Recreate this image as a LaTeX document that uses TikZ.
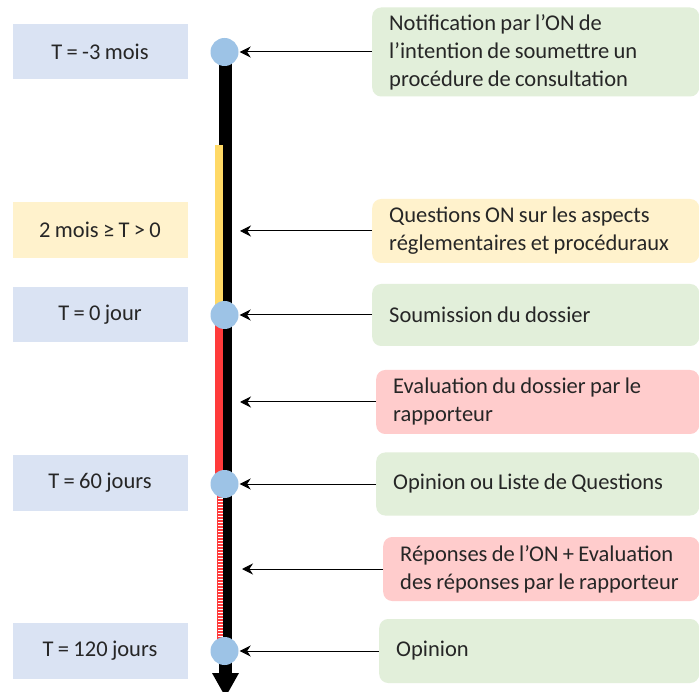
\documentclass[tikz,border=0pt]{standalone}
\usepackage{fontspec}
\setmainfont[WordSpace=0.85]{Carlito}
\usetikzlibrary{arrows.meta}
\definecolor{dateblue}{HTML}{DAE3F3}
\definecolor{dotblue}{HTML}{9DC3E6}
\definecolor{paleorange}{HTML}{FFF2CC}
\definecolor{barorange}{HTML}{FFD966}
\definecolor{palegreen}{HTML}{E2EFDA}
\definecolor{palered}{HTML}{FFCCCC}
\definecolor{barred}{HTML}{FF3B3B}
\definecolor{inktext}{HTML}{262626}
\tikzset{
  datebox/.style={fill=dateblue, minimum width=175, minimum height=55,
    inner sep=0, text=inktext, font=\fontsize{22.5}{28}\selectfont},
  stepbox/.style={rounded corners=9, anchor=west, align=flush left, inner xsep=17,
    inner ysep=0, text=inktext, font=\fontsize{22.5}{28}\selectfont},
  dot/.style={circle, fill=dotblue, minimum size=28, inner sep=0},
  pointer/.style={-{Stealth[length=11,width=11]}, line width=1, shorten >=1}
}
\begin{document}
\begin{tikzpicture}[x=1pt, y=-1pt]
  \clip (0,0) rectangle (699,692);
  \fill[white] (0,0) rectangle (699,692);
  % timeline
  \fill[black] (219,52) rectangle (232,674);
  \fill[black] (212,673) -- (239,673) -- (225.5,697) -- cycle;
  \fill[barorange] (215,145) rectangle (223,315);
  \fill[barred] (215,315) rectangle (223,484);
  \fill[white] (217,484) rectangle (223,651);
  \foreach \y in {485,488,...,650}
    \draw[barred, line width=1.5] (217,\y) -- (223,\y);
  \draw[barred, line width=1] (217.5,484) -- (217.5,651);
  % points on the line
  \node (c1) [dot] at (224.5,52) {};
  \node (c2) [dot] at (224.5,315) {};
  \node (c3) [dot] at (224.5,484) {};
  \node (c4) [dot] at (224.5,651) {};
  \coordinate (q) at (239,231);
  \coordinate (e) at (239,402);
  \coordinate (r) at (241,569);
  % dates
  \node (d1) [datebox] at (100,51.5) {T = -3 mois};
  \node (d2) [datebox, fill=paleorange, minimum height=56] at (100,230) {2 mois ≥ T > 0};
  \node (d3) [datebox] at (100,314.5) {T = 0 jour};
  \node (d4) [datebox, minimum height=56] at (100,483) {T = 60 jours};
  \node (d5) [datebox, minimum height=56] at (100,650.5) {T = 120 jours};
  % steps
  \node (s1) [stepbox, fill=palegreen, minimum height=89, text width=293] at (372,52)
    {Notification par l’ON de\\l’intention de soumettre un\\procédure de consultation};
  \node (s2) [stepbox, fill=paleorange, minimum height=64, text width=293] at (372,231)
    {Questions ON sur les aspects\\réglementaires et procéduraux};
  \node (s3) [stepbox, fill=palegreen, minimum height=62, text width=293] at (372,315)
    {Soumission du dossier};
  \node (s4) [stepbox, fill=palered, minimum height=64, text width=289] at (376,402)
    {Evaluation du dossier par le\\rapporteur};
  \node (s5) [stepbox, fill=palegreen, minimum height=63, text width=289] at (376,484)
    {Opinion ou Liste de Questions};
  \node (s6) [stepbox, fill=palered, minimum height=64, text width=282] at (383,569)
    {Réponses de l’ON + Evaluation\\des réponses par le rapporteur};
  \node (s7) [stepbox, fill=palegreen, minimum height=64, text width=286] at (379,651)
    {Opinion};
  \begin{scope}[pointer]
    \draw (s1.west) to (c1.east);
    \draw (s2.west) to (q);
    \draw (s3.west) to (c2.east);
    \draw (s4.west) to (e);
    \draw (s5.west) to (c3.east);
    \draw (s6.west) to (r);
    \draw (s7.west) to (c4.east);
  \end{scope}
\end{tikzpicture}
\end{document}
